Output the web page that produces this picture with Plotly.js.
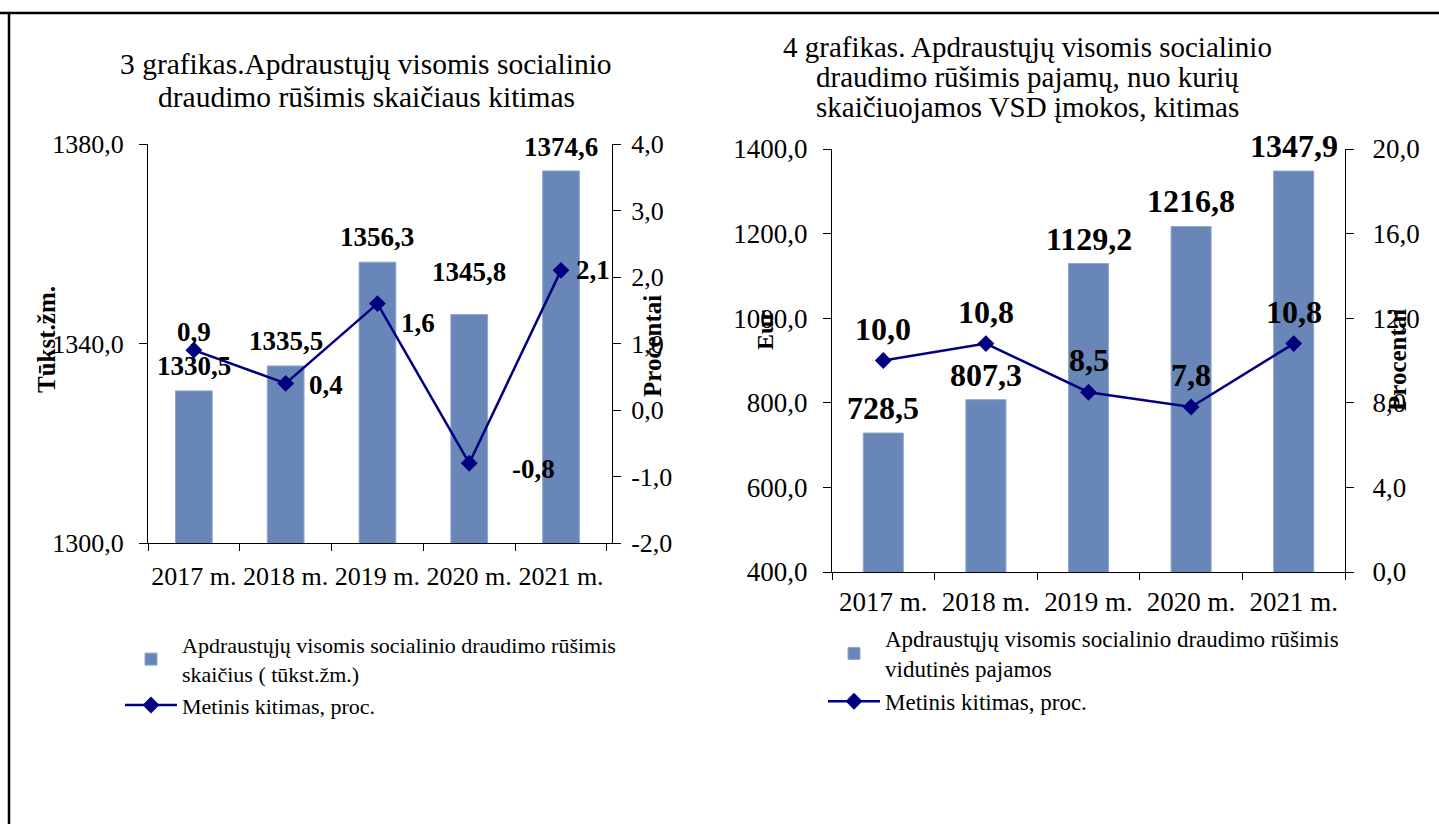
<!DOCTYPE html>
<html>
<head>
<meta charset="utf-8">
<script src="https://cdn.plot.ly/plotly-3.0.1.min.js"></script>
<style>
html,body{margin:0;padding:0;background:#fff;}
#chart{width:1439px;height:824px;}
</style>
</head>
<body>
<div id="chart"></div>
<script>
// ---- data ----
const years = ['2017 m.', '2018 m.', '2019 m.', '2020 m.', '2021 m.'];
const insuredCount = [1330.5, 1335.5, 1356.3, 1345.8, 1374.6];   // tūkst. žm.
const insuredCountChange = [0.9, 0.4, 1.6, -0.8, 2.1];           // %
const averageIncome = [728.5, 807.3, 1129.2, 1216.8, 1347.9];    // Eur
const averageIncomeChange = [10.0, 10.8, 8.5, 7.8, 10.8];        // %
const countTickVals = [1300, 1340, 1380];
const countPctTickVals = [-2, -1, 0, 1, 2, 3, 4];
const incomeTickVals = [400, 600, 800, 1000, 1200, 1400];
const incomePctTickVals = [0, 4, 8, 12, 16, 20];

const title1Lines = ['3 grafikas.Apdraustųjų visomis socialinio', 'draudimo rūšimis skaičiaus kitimas'];
const title2Lines = ['4 grafikas. Apdraustųjų visomis socialinio', 'draudimo rūšimis pajamų, nuo kurių', 'skaičiuojamos VSD įmokos, kitimas'];
const legendBar1 = 'Apdraustųjų visomis socialinio draudimo rūšimis<br>skaičius ( tūkst.žm.)';
const legendBar2 = 'Apdraustųjų visomis socialinio draudimo rūšimis<br>vidutinės pajamos';
const legendLine = 'Metinis kitimas, proc.';

// ---- styling / layout helpers ----
const W = 1439, H = 824;
const px = x => x / W;
const py = y => 1 - y / H;
const fmt = v => v.toFixed(1).replace('.', ',');
const SERIF = 'Liberation Serif, Times New Roman, serif';
const BAR = '#6887b8';
const NAVY = '#000080';

// label offsets (pixels) for the value labels of chart 3
const lineLabelShift1 = [[0, 18], [40, -2], [41, -19], [64, -6], [32, 0]];
const barLabelShift1 = [25, 25, 25, 43, 24];

const traces = [
  {type: 'bar', x: years, y: insuredCount, xaxis: 'x', yaxis: 'y', name: legendBar1,
   width: 0.4, marker: {color: BAR, line: {color: '#8ea6cc', width: 1}}, legend: 'legend', hoverinfo: 'skip'},
  {type: 'scatter', mode: 'lines+markers', x: years, y: insuredCountChange, xaxis: 'x', yaxis: 'y2', name: legendLine,
   line: {color: NAVY, width: 2.5}, marker: {symbol: 'diamond', size: 13, color: NAVY}, legend: 'legend', hoverinfo: 'skip'},
  {type: 'bar', x: years, y: averageIncome, xaxis: 'x2', yaxis: 'y3', name: legendBar2,
   width: 0.39, marker: {color: BAR, line: {color: '#8ea6cc', width: 1}}, legend: 'legend2', hoverinfo: 'skip'},
  {type: 'scatter', mode: 'lines+markers', x: years, y: averageIncomeChange, xaxis: 'x2', yaxis: 'y4', name: legendLine,
   line: {color: NAVY, width: 2.5}, marker: {symbol: 'diamond', size: 13, color: NAVY}, legend: 'legend2', hoverinfo: 'skip'}
];

const tickFont = {family: SERIF, size: 26, color: '#000'};
const tickFont2 = {family: SERIF, size: 27, color: '#000'};
const baseY = {showgrid: false, zeroline: false, showline: true, linecolor: '#000', linewidth: 1,
  ticks: 'outside', ticklen: 8, tickcolor: '#000', tickfont: tickFont, tickmode: 'array', ticklabelstandoff: 10, fixedrange: true};
const baseX = {type: 'category', showgrid: false, zeroline: false, showline: true, linecolor: '#000', linewidth: 1,
  ticks: 'outside', tickson: 'boundaries', ticklen: 7, tickcolor: '#000', tickfont: tickFont, tickangle: 0, fixedrange: true};

const annotations = [];
const bold = (size) => ({family: SERIF, size: size, color: '#000', weight: 'bold'});
const paperText = (x, y, text, font, angle) => ({xref: 'paper', yref: 'paper', x: px(x), y: py(y), text: text,
  showarrow: false, xanchor: 'center', yanchor: 'middle', textangle: angle || 0, font: font});

// titles
title1Lines.forEach((t, i) => annotations.push(paperText(366, 64 + i * 33, t, {family: SERIF, size: 29.5, color: '#000'})));
title2Lines.forEach((t, i) => annotations.push(paperText(1027, 47 + i * 30, t, {family: SERIF, size: 29, color: '#000'})));

// axis titles
annotations.push(paperText(46, 340, 'Tūkst.žm.', bold(25), -90));
annotations.push(paperText(653, 346, 'Procentai', bold(25), -90));
annotations.push(paperText(765, 330, 'Eur', bold(24), -90));
annotations.push(paperText(1397, 360, 'Procentai', bold(25), -90));

// value labels chart 3
years.forEach((c, i) => {
  annotations.push({xref: 'x', yref: 'y', x: c, y: insuredCount[i], text: fmt(insuredCount[i]), showarrow: false,
    xanchor: 'center', yanchor: 'middle', yshift: barLabelShift1[i], font: bold(27)});
  annotations.push({xref: 'x', yref: 'y2', x: c, y: insuredCountChange[i], text: fmt(insuredCountChange[i]), showarrow: false,
    xanchor: 'center', yanchor: 'middle', xshift: lineLabelShift1[i][0], yshift: lineLabelShift1[i][1], font: bold(27)});
});
// value labels chart 4
years.forEach((c, i) => {
  annotations.push({xref: 'x2', yref: 'y3', x: c, y: averageIncome[i], text: fmt(averageIncome[i]), showarrow: false,
    xanchor: 'center', yanchor: 'middle', yshift: 25, font: bold(32)});
  annotations.push({xref: 'x2', yref: 'y4', x: c, y: averageIncomeChange[i], text: fmt(averageIncomeChange[i]), showarrow: false,
    xanchor: 'center', yanchor: 'middle', yshift: 32, font: bold(32)});
});

const layout = {
  width: W, height: H, margin: {l: 0, r: 0, t: 0, b: 0, pad: 0},
  paper_bgcolor: '#fff', plot_bgcolor: 'rgba(0,0,0,0)',
  separators: ', ', showlegend: true, barmode: 'group',
  font: {family: SERIF, color: '#000'},
  xaxis: Object.assign({}, baseX, {domain: [px(148), px(612)], anchor: 'y', ticklabelstandoff: 10}),
  yaxis: Object.assign({}, baseY, {domain: [py(543), py(144)], range: [1300, 1380], anchor: 'x',
    tickvals: countTickVals, ticktext: countTickVals.map(fmt)}),
  yaxis2: Object.assign({}, baseY, {domain: [py(543), py(144)], range: [-2, 4], overlaying: 'y', side: 'right', anchor: 'x',
    tickvals: countPctTickVals, ticktext: countPctTickVals.map(fmt), ticklabelstandoff: 5}),
  xaxis2: Object.assign({}, baseX, {domain: [px(832), px(1345)], anchor: 'y3', tickfont: tickFont2, ticklabelstandoff: 6}),
  yaxis3: Object.assign({}, baseY, {domain: [py(572), py(149)], range: [400, 1400], anchor: 'x2',
    tickvals: incomeTickVals, ticktext: incomeTickVals.map(fmt), tickfont: tickFont2}),
  yaxis4: Object.assign({}, baseY, {domain: [py(572), py(149)], range: [0, 20], overlaying: 'y3', side: 'right', anchor: 'x2',
    tickvals: incomePctTickVals, ticktext: incomePctTickVals.map(fmt), tickfont: tickFont2, ticklabelstandoff: 13}),
  legend: {x: px(120), y: py(624), xanchor: 'left', yanchor: 'top', bgcolor: 'rgba(0,0,0,0)',
    font: {family: SERIF, size: 22, color: '#000'}, itemwidth: 52, traceorder: 'normal'},
  legend2: {x: px(823), y: py(617), xanchor: 'left', yanchor: 'top', bgcolor: 'rgba(0,0,0,0)',
    font: {family: SERIF, size: 23, color: '#000'}, itemwidth: 52, traceorder: 'normal'},
  annotations: annotations,
  shapes: [
    {type: 'line', xref: 'paper', yref: 'paper', x0: 0, x1: 1, y0: py(13), y1: py(13), line: {color: '#000', width: 2.5}},
    {type: 'line', xref: 'paper', yref: 'paper', x0: px(9), x1: px(9), y0: py(13), y1: 0, line: {color: '#000', width: 2.5}}
  ]
};

Plotly.newPlot('chart', traces, layout, {displayModeBar: false, staticPlot: true});
</script>
</body>
</html>
